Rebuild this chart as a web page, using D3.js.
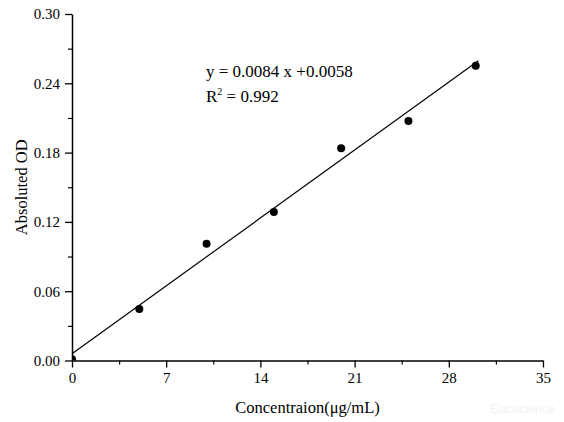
<!DOCTYPE html>
<html>
<head>
<meta charset="utf-8">
<script src="https://cdn.jsdelivr.net/npm/d3@7"></script>
<style>
  body { margin: 0; background: #fff; }
  svg text { font-family: "Liberation Serif", "DejaVu Serif", serif; fill: #000; }
</style>
</head>
<body>
<svg width="564" height="422"></svg>
<script>
// standard curve data
var concentration = [0, 5, 10, 15, 20, 25, 30];
var absorbance = [0.001, 0.0446, 0.101, 0.1286, 0.1837, 0.2074, 0.2552];
var slope = 0.0084, intercept = 0.0058;
var xTicks = [0, 7, 14, 21, 28, 35];
var yTicks = [0, 0.06, 0.12, 0.18, 0.24, 0.30];
var equationText = "y = 0.0084 x +0.0058";
var r2Text = "= 0.992";

var svg = d3.select("svg"),
    margin = {top: 14, right: 21, bottom: 61.5, left: 72},
    width = +svg.attr("width") - margin.left - margin.right,
    height = +svg.attr("height") - margin.top - margin.bottom;

var x = d3.scaleLinear().domain([0, 35]).range([0, width]);
var y = d3.scaleLinear().domain([0, 0.30]).range([height, 0]);

var g = svg.append("g").attr("transform", "translate(" + margin.left + "," + margin.top + ")");

svg.append("defs").append("clipPath").attr("id", "plot")
  .append("rect").attr("width", width).attr("height", height);

// minor ticks
g.append("g")
    .attr("transform", "translate(0," + height + ")")
    .call(d3.axisBottom(x).tickValues(d3.range(3.5, 35, 7)).tickSize(4).tickFormat(""))
    .call(function(a) { a.select(".domain").remove(); a.selectAll("line").attr("stroke-width", 1.2); });
g.append("g")
    .call(d3.axisLeft(y).tickValues(d3.range(0.03, 0.30, 0.06)).tickSize(4).tickFormat(""))
    .call(function(a) { a.select(".domain").remove(); a.selectAll("line").attr("stroke-width", 1.2); });

// fit line
var line = d3.line()
    .x(function(d) { return x(d); })
    .y(function(d) { return y(slope * d + intercept); });
g.append("path")
    .datum([0, 30.2])
    .attr("d", line)
    .attr("fill", "none")
    .attr("stroke", "#000")
    .attr("stroke-width", 1.2);

g.append("g")
    .attr("clip-path", "url(#plot)")
  .selectAll("circle")
    .data(concentration)
    .enter().append("circle")
    .attr("cx", function(d) { return x(d); })
    .attr("cy", function(d, i) { return y(absorbance[i]); })
    .attr("r", 4)
    .attr("fill", "#000");

var xAxis = g.append("g")
    .attr("transform", "translate(0," + height + ")")
    .call(d3.axisBottom(x).tickValues(xTicks).tickSize(7).tickSizeOuter(0).tickPadding(5).tickFormat(d3.format("d")));
var yAxis = g.append("g")
    .call(d3.axisLeft(y).tickValues(yTicks).tickSize(7).tickSizeOuter(0).tickPadding(5).tickFormat(d3.format(".2f")));

[xAxis, yAxis].forEach(function(a) {
  a.attr("font-family", null).attr("font-size", null);
  a.select(".domain").attr("stroke-width", 1.5);
  a.selectAll("line").attr("stroke-width", 1.3);
  a.selectAll("text").style("font-size", "15px");
});

// equation
svg.append("text")
    .attr("x", 206)
    .attr("y", 77)
    .style("font-size", "17px")
    .text(equationText);
var r2 = svg.append("text")
    .attr("x", 206)
    .attr("y", 102)
    .style("font-size", "17px");
r2.append("tspan").text("R");
r2.append("tspan").attr("dy", -7).style("font-size", "10px").text("2");
r2.append("tspan").attr("dy", 7).text(" " + r2Text);

// axis titles
svg.append("text")
    .attr("x", margin.left + width / 2)
    .attr("y", 413)
    .attr("text-anchor", "middle")
    .style("font-size", "16.5px")
    .text("Concentraion(μg/mL)");
svg.append("text")
    .attr("transform", "translate(27," + (margin.top + height / 2) + ") rotate(-90)")
    .attr("text-anchor", "middle")
    .style("font-size", "16.5px")
    .text("Absoluted OD");

// faint watermark
svg.append("text")
    .attr("x", 522)
    .attr("y", 413)
    .attr("text-anchor", "middle")
    .style("font-size", "12px")
    .style("font-family", "Arial, sans-serif")
    .style("fill", "#f2f2f2")
    .text("Elabscience");
</script>
</body>
</html>
